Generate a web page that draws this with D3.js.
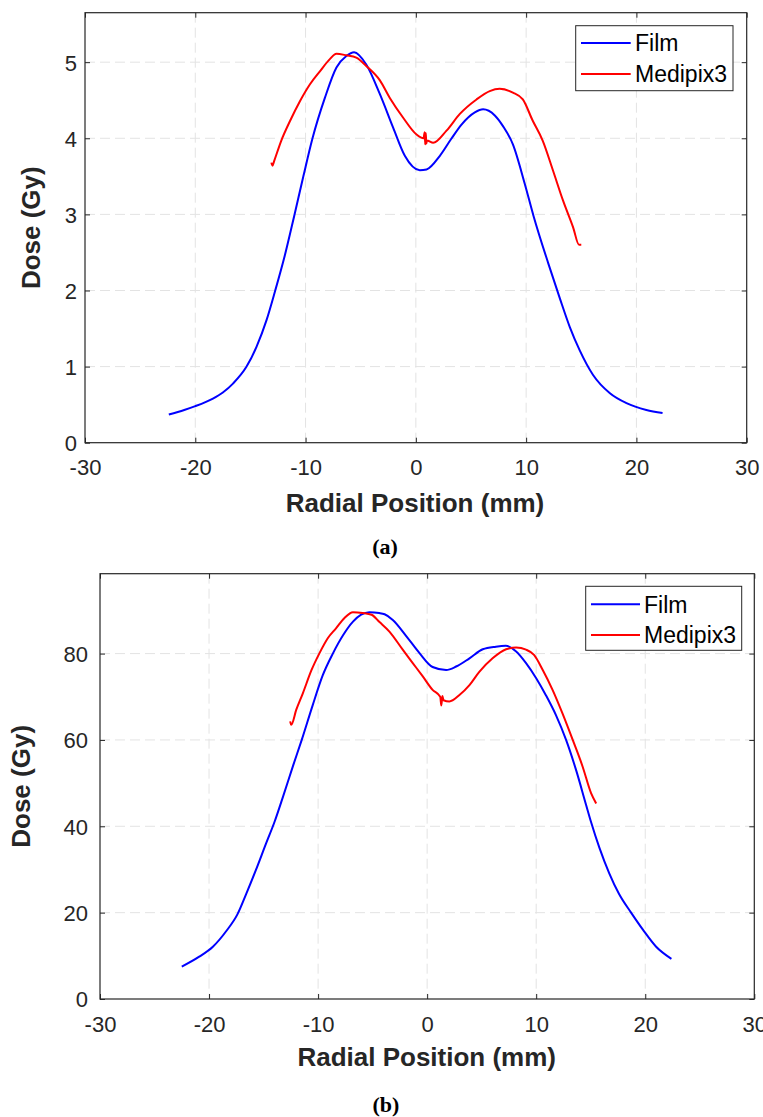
<!DOCTYPE html>
<html>
<head>
<meta charset="utf-8">
<script src="https://cdn.jsdelivr.net/npm/d3@7"></script>
<style>
html,body{margin:0;padding:0;background:#fff;}
svg{display:block;}
</style>
</head>
<body>
<svg id="chart" width="763" height="1117"></svg>
<script>
// ---------- DATA ----------
const xTicks = [-30, -20, -10, 0, 10, 20, 30];
const yTicksA = [0, 1, 2, 3, 4, 5];
const yTicksB = [0, 20, 40, 60, 80];
const seriesNames = ["Film", "Medipix3"];
const captions = ["(a)", "(b)"];

// Panel (a)
const filmA_x = [-22.4, -21, -20, -18.4, -17.5, -16.56, -15.35, -14.45, -13.54, -12.75, -11.9, -11.03, -10.2, -9.37, -8.25, -7.2, -6.3, -5.6, -4.5, -3.26, -2.06, -1.0, 0.36, 0.97, 2.18, 3.2, 4.14, 5.35, 6.1, 7.16, 7.9, 8.8, 9.88, 10.67, 12.0, 13.05, 13.96, 14.87, 16.07, 17.6, 19.1, 20.9, 22.37];
const filmA_y = [0.37, 0.43, 0.48, 0.58, 0.66, 0.78, 1.0, 1.26, 1.61, 2.0, 2.45, 2.98, 3.5, 4.0, 4.53, 4.93, 5.08, 5.13, 4.97, 4.58, 4.14, 3.77, 3.58, 3.59, 3.77, 3.99, 4.18, 4.34, 4.38, 4.30, 4.16, 3.92, 3.40, 2.98, 2.36, 1.90, 1.52, 1.21, 0.89, 0.65, 0.52, 0.43, 0.39];
const mediA_x = [-13.1, -13.0, -12.85, -12.2, -11.4, -10.5, -9.6, -8.7, -7.8, -7.2, -6.3, -5.4, -4.5, -3.26, -2.36, -1.15, 0.06, 0.7, 0.8, 0.85, 0.9, 0.95, 1.0, 1.57, 2.78, 3.99, 5.5, 6.7, 7.6, 8.8, 9.7, 10.6, 11.5, 12.45, 13.35, 14.26, 14.8, 15.0];
const mediA_y = [3.68, 3.64, 3.70, 3.97, 4.23, 4.49, 4.71, 4.88, 5.04, 5.11, 5.09, 5.06, 4.95, 4.76, 4.53, 4.27, 4.05, 4.00, 4.08, 3.92, 4.07, 3.93, 3.97, 3.94, 4.10, 4.32, 4.51, 4.62, 4.65, 4.60, 4.51, 4.23, 3.97, 3.57, 3.18, 2.83, 2.60, 2.60];

// Panel (b)
const filmB_x = [-22.5, -20.9, -19.65, -18.4, -17.4, -16.6, -15.7, -14.76, -14.0, -13.2, -12.3, -11.5, -10.5, -9.57, -8.65, -7.7, -6.8, -6.05, -5.3, -4.4, -3.9, -3.15, -1.9, -0.7, 0.5, 1.74, 2.66, 3.88, 5.1, 6.3, 7.2, 8.16, 9.07, 10.0, 10.9, 11.8, 12.74, 13.66, 14.57, 15.03, 15.8, 16.7, 17.6, 18.7, 19.8, 21.0, 22.4];
const filmB_y = [7.5, 9.8, 12.1, 15.8, 19.6, 24.3, 29.9, 36.1, 41.0, 47.0, 54.0, 60.0, 68.0, 75.0, 80.0, 84.3, 87.4, 89.0, 89.6, 89.4, 89.1, 87.8, 84.0, 80.1, 76.9, 76.2, 77.0, 78.9, 81.0, 81.6, 81.8, 80.5, 77.8, 74.3, 70.3, 65.8, 60.0, 53.0, 45.0, 41.0, 35.0, 29.1, 24.3, 20.0, 16.0, 12.1, 9.3];
const mediB_x = [-12.56, -12.47, -12.0, -11.4, -10.6, -9.87, -9.1, -8.34, -7.6, -6.8, -5.9, -5.1, -4.37, -3.46, -2.24, -1.32, -0.4, 0.5, 1.2, 1.3, 1.4, 1.5, 2.04, 2.96, 3.88, 4.8, 6.0, 7.24, 8.16, 9.07, 9.8, 10.6, 11.5, 12.4, 13.35, 14.26, 15.03, 15.5];
const mediB_y = [64.3, 63.5, 67.0, 70.8, 76.2, 80.1, 83.6, 85.9, 88.2, 89.6, 89.4, 89.0, 87.3, 85.1, 80.9, 77.8, 74.7, 71.6, 70.0, 68.0, 70.2, 69.2, 68.9, 70.4, 72.7, 75.8, 78.9, 81.0, 81.4, 80.9, 79.7, 76.2, 71.6, 66.2, 60.0, 53.8, 47.7, 45.3];

// ---------- DRAW ----------
const svg = d3.select("#chart");
const axisColor = "#262626";
const colors = ["#0000ff", "#ff0000"];
const sans = "'Liberation Sans', Arial, sans-serif";
const fmt = d => String(d);

function zip(xs, ys) { return xs.map((x, i) => ({x: x, y: ys[i]})); }

function panel(cfg) {
  const x = d3.scaleLinear().domain([-30, 30]).range([cfg.left, cfg.right]);
  const y = d3.scaleLinear().domain([0, cfg.ymax]).range([cfg.bottom, cfg.top]);
  const g = svg.append("g");

  // grid
  g.append("g").selectAll("line").data(xTicks.slice(1, -1)).join("line")
    .attr("x1", d => x(d)).attr("x2", d => x(d))
    .attr("y1", cfg.top).attr("y2", cfg.bottom)
    .attr("stroke", "#e3e3e3").attr("stroke-width", 1).attr("stroke-dasharray", "10,5");
  g.append("g").selectAll("line").data(cfg.yTicks.slice(1)).join("line")
    .attr("x1", cfg.left).attr("x2", cfg.right)
    .attr("y1", d => y(d)).attr("y2", d => y(d))
    .attr("stroke", "#e3e3e3").attr("stroke-width", 1).attr("stroke-dasharray", "10,5");

  // axes (ticks inward)
  const xAx = g.append("g").attr("transform", `translate(0,${cfg.bottom})`)
    .call(d3.axisBottom(x).tickValues(xTicks).tickFormat(fmt).tickSizeInner(-5).tickSizeOuter(0).tickPadding(10));
  const xTop = g.append("g").attr("transform", `translate(0,${cfg.top})`)
    .call(d3.axisTop(x).tickValues(xTicks).tickSizeInner(-5).tickSizeOuter(0).tickFormat(""));
  const yAx = g.append("g").attr("transform", `translate(${cfg.left},0)`)
    .call(d3.axisLeft(y).tickValues(cfg.yTicks).tickFormat(fmt).tickSizeInner(-5).tickSizeOuter(0).tickPadding(cfg.yPad));
  const yRight = g.append("g").attr("transform", `translate(${cfg.right},0)`)
    .call(d3.axisRight(y).tickValues(cfg.yTicks).tickSizeInner(-5).tickSizeOuter(0).tickFormat(""));
  [xAx, xTop, yAx, yRight].forEach(a => {
    a.select(".domain").remove();
    a.selectAll("line").attr("stroke", axisColor).attr("stroke-width", 1);
    a.selectAll("text").attr("fill", axisColor).style("font-family", sans).style("font-size", "22px");
  });
  xAx.selectAll("text").attr("dy", null).attr("y", cfg.xTickBase - cfg.bottom);
  yAx.selectAll("text").attr("dy", "0.36em");
  // box
  g.append("rect").attr("x", cfg.left).attr("y", cfg.top)
    .attr("width", cfg.right - cfg.left).attr("height", cfg.bottom - cfg.top)
    .attr("fill", "none").attr("stroke", axisColor).attr("stroke-width", 1.2);

  // lines
  const line = d3.line().x(d => x(d.x)).y(d => y(d.y)).curve(d3.curveMonotoneX);
  cfg.series.forEach((s, i) => {
    g.append("path").datum(s).attr("d", line).attr("fill", "none")
      .attr("stroke", colors[i]).attr("stroke-width", 2).attr("stroke-linejoin", "round");
  });

  // axis labels
  g.append("text").attr("x", cfg.xLabelX).attr("y", cfg.xLabelY)
    .attr("text-anchor", "middle").attr("fill", axisColor)
    .style("font-family", sans).style("font-size", "26px").style("font-weight", "bold")
    .text("Radial Position (mm)");
  g.append("text")
    .attr("transform", `translate(${cfg.yLabelX},${(cfg.top + cfg.bottom) / 2}) rotate(-90)`)
    .attr("text-anchor", "middle").attr("fill", axisColor)
    .style("font-family", sans).style("font-size", "26px").style("font-weight", "bold")
    .text("Dose (Gy)");

  // legend
  const L = cfg.legend;
  g.append("rect").attr("x", L.x0).attr("y", L.y0).attr("width", L.x1 - L.x0).attr("height", L.y1 - L.y0)
    .attr("fill", "#fff").attr("stroke", axisColor).attr("stroke-width", 1);
  seriesNames.forEach((n, i) => {
    g.append("line").attr("x1", L.lx0).attr("x2", L.lx1).attr("y1", L.rows[i]).attr("y2", L.rows[i])
      .attr("stroke", colors[i]).attr("stroke-width", 2);
    g.append("text").attr("x", L.tx).attr("y", L.rows[i]).attr("dy", "0.36em")
      .attr("fill", "#000").style("font-family", sans).style("font-size", "23px").text(n);
  });

  // caption
  svg.append("text").attr("x", cfg.capX).attr("y", cfg.capY).attr("text-anchor", "middle")
    .style("font-family", "'Liberation Serif', 'Times New Roman', serif")
    .style("font-size", "22px").style("font-weight", "bold").attr("fill", "#000")
    .text(cfg.caption);
}

panel({
  left: 85, right: 746.7, top: 12.7, bottom: 442.7, ymax: 5.65, yTicks: yTicksA,
  yPad: 8, xTickBase: 475,
  series: [zip(filmA_x, filmA_y), zip(mediA_x, mediA_y)],
  xLabelX: 415, xLabelY: 511.5, yLabelX: 40,
  legend: {x0: 575.7, y0: 25.7, x1: 733, y1: 90.7, lx0: 581, lx1: 630.7, tx: 635, rows: [43, 74]},
  caption: captions[0], capX: 385, capY: 554
});

panel({
  left: 100, right: 754.3, top: 573.7, bottom: 999, ymax: 98.5, yTicks: yTicksB,
  yPad: 12, xTickBase: 1031.5,
  series: [zip(filmB_x, filmB_y), zip(mediB_x, mediB_y)],
  xLabelX: 426.7, xLabelY: 1066, yLabelX: 30,
  legend: {x0: 585.7, y0: 586.3, x1: 741.7, y1: 650.3, lx0: 591, lx1: 640, tx: 644, rows: [604.3, 635]},
  caption: captions[1], capX: 386, capY: 1112
});
</script>
</body>
</html>
